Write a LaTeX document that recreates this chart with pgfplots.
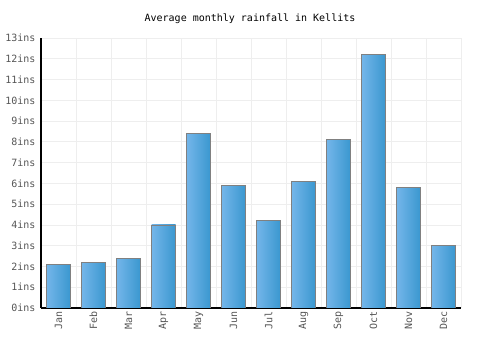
\documentclass[border=0pt]{standalone}
\usepackage{pgfplots}
\pgfplotsset{compat=1.18}
\usepackage{fontspec}
\setmainfont{DejaVu Sans Mono}
\definecolor{gridc}{HTML}{EEEEEE}
\definecolor{barL}{HTML}{74B6EA}
\definecolor{barR}{HTML}{3A97CF}
\definecolor{tickc}{HTML}{555555}
\pgfplotsset{mybar/.style={ybar, bar width=24pt, bar shift=0pt, draw=gray, line width=0.8pt, left color=barL, right color=barR, forget plot}}
\begin{document}
\begin{tikzpicture}
\path[use as bounding box] (0,0) rectangle (500pt,350pt);
\node[font=\fontsize{10}{12}\selectfont, text=black] at (250pt,331pt) {Average monthly rainfall in Kellits};
\begin{axis}[
  at={(41pt,42pt)}, anchor=south west,
  scale only axis, width=420pt, height=270pt,
  xmin=-0.5, xmax=11.5, ymin=0, ymax=13,
  axis x line*=bottom, axis y line*=left,
  axis line style={black, line width=1.2pt, -},
  xtick={0,...,11},
  xticklabels={Jan,Feb,Mar,Apr,May,Jun,Jul,Aug,Sep,Oct,Nov,Dec},
  minor xtick={0.5,1.5,...,11.5},
  ytick={0,...,13},
  yticklabels={0ins,1ins,2ins,3ins,4ins,5ins,6ins,7ins,8ins,9ins,10ins,11ins,12ins,13ins},
  ymajorgrids, xminorgrids,
  major grid style={gridc, line width=0.8pt},
  minor grid style={gridc, line width=0.8pt},
  major tick length=0pt, minor tick length=0pt,
  tick label style={font=\fontsize{10}{12}\selectfont, text=tickc},
  xticklabel style={rotate=90, anchor=east},
  yticklabel style={xshift=-2pt},
  /pgf/number format/assume math mode=true,
]
\addplot[mybar] coordinates {(0,2.1)};
\addplot[mybar] coordinates {(1,2.2)};
\addplot[mybar] coordinates {(2,2.4)};
\addplot[mybar] coordinates {(3,4.0)};
\addplot[mybar] coordinates {(4,8.4)};
\addplot[mybar] coordinates {(5,5.9)};
\addplot[mybar] coordinates {(6,4.2)};
\addplot[mybar] coordinates {(7,6.1)};
\addplot[mybar] coordinates {(8,8.1)};
\addplot[mybar] coordinates {(9,12.2)};
\addplot[mybar] coordinates {(10,5.8)};
\addplot[mybar] coordinates {(11,3.0)};
\end{axis}
\end{tikzpicture}
\end{document}
